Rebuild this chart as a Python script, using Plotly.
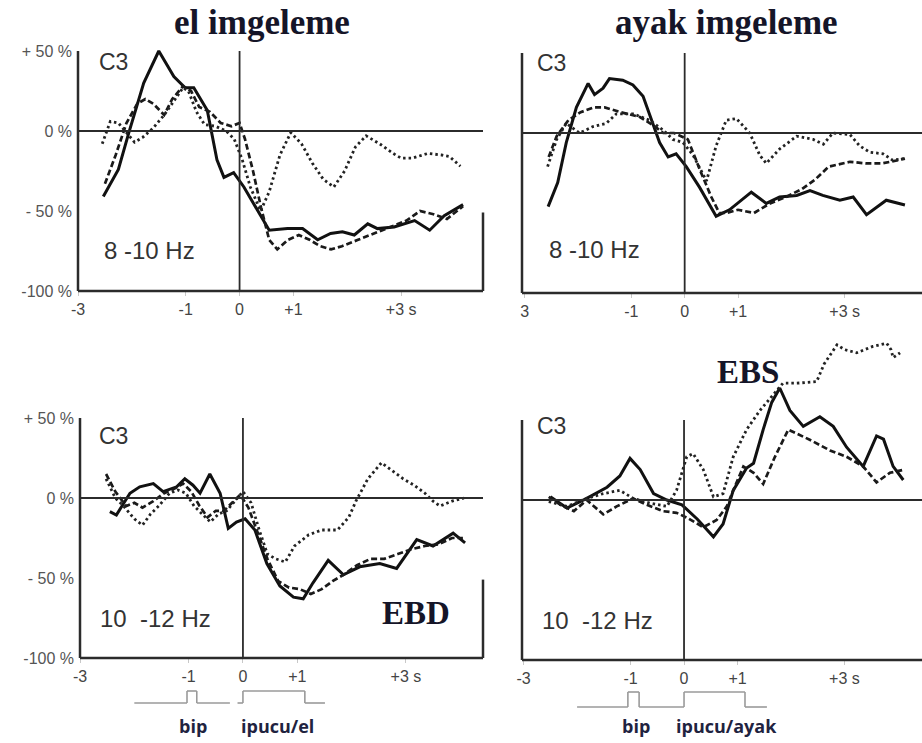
import plotly.graph_objects as go

# ---------------- data (time in s, ERD/ERS in %) ----------------
# el imgeleme, 8-10 Hz
el_a_solid_t = [-2.53, -2.25, -2.06, -1.78, -1.50, -1.22, -1.01, -0.85, -0.60, -0.42, -0.29, -0.11, 0.08, 0.33, 0.55, 0.89, 1.17, 1.45, 1.69, 1.91, 2.13, 2.38, 2.56, 2.87, 3.25, 3.53, 3.80, 4.15]
el_a_solid = [-41, -24, -1.5, 30, 50, 34, 27, 27, 13, -18, -29, -26, -35, -49, -62, -61, -61, -68, -64, -63, -65, -58, -61, -60, -56, -62, -53, -46]
el_a_dash_t = [-2.5, -2.3, -2.1, -1.9, -1.75, -1.6, -1.4, -1.25, -1.05, -0.9, -0.75, -0.55, -0.35, -0.15, 0.0, 0.1, 0.25, 0.4, 0.55, 0.7, 0.9, 1.1, 1.3, 1.5, 1.7, 1.9, 2.2, 2.5, 2.8, 3.1, 3.35, 3.6, 3.85, 4.15]
el_a_dash = [-33, -15, 5, 17, 20, 17, 10, 20, 28, 25, 15, 12, 5, 3, 5, -5, -25, -48, -68, -74, -68, -65, -68, -72, -74, -72, -68, -64, -60, -56, -50, -52, -55, -47]
el_a_dot_t = [-2.55, -2.4, -2.25, -2.1, -1.95, -1.8, -1.6, -1.4, -1.2, -1.05, -0.95, -0.8, -0.65, -0.45, -0.25, -0.1, 0.05, 0.2, 0.39, 0.55, 0.75, 0.95, 1.15, 1.35, 1.55, 1.75, 1.95, 2.15, 2.35, 2.6, 2.85, 3.0, 3.2, 3.5, 3.75, 3.9, 4.1]
el_a_dot = [-8, 6, 5, -1, -7, -4, 2, 10, 20, 27, 25, 12, 4, 3, 0, -5, -18, -35, -50, -38, -15, -1, -8, -20, -30, -35, -25, -10, -3, -8, -14, -17, -17, -14, -15, -16, -22]

# ayak imgeleme, 8-10 Hz
ayak_a_solid_t = [-2.56, -2.38, -2.22, -2.03, -1.81, -1.69, -1.53, -1.41, -1.16, -0.97, -0.78, -0.66, -0.47, -0.31, -0.16, 0.03, 0.28, 0.59, 0.84, 1.25, 1.53, 1.78, 2.10, 2.35, 2.59, 2.91, 3.16, 3.41, 3.78, 4.13]
ayak_a_solid = [-46, -31, -6, 16, 31, 24, 28, 34, 33, 30, 23, 12, -6, -15, -13, -21, -34, -52, -48, -37, -44, -40, -39, -36, -39, -42, -40, -51, -42, -45]
ayak_a_dash_t = [-2.55, -2.4, -2.18, -1.95, -1.7, -1.5, -1.2, -0.84, -0.6, -0.4, -0.2, 0.06, 0.31, 0.5, 0.65, 0.78, 1.0, 1.3, 1.6, 1.9, 2.2, 2.45, 2.7, 3.1, 3.4, 3.7, 4.0, 4.13]
ayak_a_dash = [-15, -2, 8, 13, 16, 16, 13, 10, 5, 0, 0, -4, -25, -40, -50, -50, -48, -50, -44, -40, -35, -29, -21, -18, -19, -19, -17, -16]
ayak_a_dot_t = [-2.57, -2.4, -2.22, -1.97, -1.72, -1.47, -1.28, -0.97, -0.66, -0.41, -0.22, -0.03, 0.16, 0.41, 0.59, 0.78, 0.97, 1.22, 1.41, 1.53, 1.78, 2.1, 2.41, 2.6, 2.78, 3.1, 3.28, 3.47, 3.72, 3.9, 4.12]
ayak_a_dot = [-21, -4, 6, 0, 4, 6, 12, 12, 8, 2, -4, -6, -14, -30, -8, 8, 9, 0, -14, -19, -10, -2, -4, -7, 0, -1, -8, -12, -13, -17, -16]

# el imgeleme, 10-12 Hz
el_b_solid_t = [-2.45, -2.33, -2.08, -1.90, -1.65, -1.47, -1.22, -1.07, -0.92, -0.79, -0.61, -0.42, -0.27, -0.12, 0.04, 0.22, 0.44, 0.68, 0.93, 1.11, 1.29, 1.57, 1.85, 2.15, 2.52, 2.83, 3.20, 3.50, 3.87, 4.09]
el_b_solid = [-8.5, -10.6, 3, 7, 9, 4, 7, 12, 8, 3, 15, 3, -19, -15, -13, -20, -41, -55, -62, -63, -53, -39, -48, -43, -41, -44, -26, -30, -22, -28]
el_b_dash_t = [-2.52, -2.35, -2.15, -2.0, -1.85, -1.65, -1.45, -1.25, -1.1, -0.95, -0.8, -0.65, -0.5, -0.35, -0.2, -0.05, 0.1, 0.25, 0.45, 0.65, 0.85, 1.05, 1.25, 1.45, 1.65, 1.85, 2.1, 2.35, 2.6, 2.85, 3.1, 3.35, 3.6, 3.85, 4.05]
el_b_dash = [15, 4, -5, -3, -6, -2, 3, 6, 9, 4, -5, -12, -8, -8, -3, 2, -6, -20, -38, -52, -56, -57, -60, -57, -52, -48, -42, -38, -38, -35, -32, -30, -29, -25, -25]
el_b_dot_t = [-2.52, -2.35, -2.2, -2.0, -1.85, -1.7, -1.55, -1.35, -1.2, -1.05, -0.9, -0.75, -0.6, -0.45, -0.3, -0.15, 0.0, 0.15, 0.3, 0.45, 0.6, 0.78, 0.95, 1.21, 1.45, 1.74, 1.95, 2.08, 2.3, 2.55, 2.75, 2.95, 3.15, 3.35, 3.5, 3.63, 3.85, 4.07]
el_b_dot = [12, 0, -5, -13, -17, -10, -5, 3, 5, 3, -5, -10, -15, -10, -8, -2, 4, -3, -20, -35, -38, -40, -30, -23, -20, -20, -12, -2, 12, 22, 17, 12, 8, 3, -2, -5, -2, 0]

# ayak imgeleme, 10-12 Hz
ayak_b_solid_t = [-2.50, -2.19, -1.82, -1.44, -1.20, -1.01, -0.82, -0.57, -0.32, -0.04, 0.25, 0.55, 0.73, 0.92, 1.17, 1.30, 1.48, 1.64, 1.79, 1.98, 2.23, 2.54, 2.79, 3.04, 3.35, 3.60, 3.73, 3.91, 4.10]
ayak_b_solid = [2, -5, 1, 8, 15, 26, 19, 4, 0, -3, -12, -23, -15, 6, 20, 23, 44, 61, 70, 56, 46, 52, 46, 33, 21, 40, 38, 21, 12.5]
ayak_b_dash_t = [-2.53, -2.31, -2.06, -1.82, -1.51, -1.26, -0.95, -0.70, -0.39, -0.14, 0.05, 0.36, 0.61, 0.80, 0.92, 1.11, 1.30, 1.48, 1.70, 1.95, 2.36, 2.73, 3.04, 3.35, 3.60, 3.85, 4.13]
ayak_b_dash = [2, -3, -7, 0, -9, -4, 1, -3, -7, -8, -11, -17, -12.5, -4, 6, 21, 17, 10, 27, 44, 37.5, 31, 27, 21, 11, 17, 19]
ayak_b_dot_t = [-2.53, -2.19, -1.82, -1.51, -1.20, -0.95, -0.64, -0.32, -0.14, 0.05, 0.17, 0.36, 0.55, 0.73, 0.92, 1.17, 1.42, 1.64, 1.85, 2.11, 2.48, 2.62, 2.86, 3.0, 3.23, 3.53, 3.79, 3.87, 3.91, 4.04]
ayak_b_dot = [-1, -4, 1, 4, 6, 1, -2, -4, 6, 27, 29, 19, 2, 4, 27, 44, 56, 65, 73, 73, 74, 85, 97, 94, 92, 96, 98, 94, 89, 92]

# tick labels and texts
y_tickvals = [50, 0, -50, -100]
y_ticktext = ["+ 50 %", "0 %", "- 50 %", "-100 %"]
x_tickvals = [-3, -1, 0, 1, 3]
x_ticktext_a = ["-3", "-1", "0", "+1", "+3 s"]
x_ticktext_b = ["3", "-1", "0", "+1", "+3 s"]
titles = ["el imgeleme", "ayak imgeleme"]
bands = ["8 -10 Hz", "10\u00a0 -12 Hz"]
cue_labels = ["ipucu/el", "ipucu/ayak"]

# ---------------- layout helpers ----------------
W, H = 922, 743
# panel geometry in pixels: (left px, right px, x range, zero px, -100 px, y top value)
panels = {
    1: dict(l=78, r=483, xr=[-3.0, 4.52], z=131, b=291, ytop=62),
    2: dict(l=522, r=922, xr=[-3.05, 4.45], z=133, b=293, ytop=62),
    3: dict(l=80, r=483, xr=[-3.0, 4.42], z=498, b=658, ytop=62),
    4: dict(l=522, r=922, xr=[-3.03, 4.45], z=500, b=660, ytop=105),
}

fig = go.Figure()

styles = {
    "solid": dict(color="#111111", width=3, dash="solid"),
    "dash": dict(color="#1a1a1a", width=2.7, dash="6px,3px"),
    "dot": dict(color="#222222", width=2.8, dash="2.5px,3px"),
}

series = {
    1: [(el_a_solid_t, el_a_solid, "solid"), (el_a_dash_t, el_a_dash, "dash"), (el_a_dot_t, el_a_dot, "dot")],
    2: [(ayak_a_solid_t, ayak_a_solid, "solid"), (ayak_a_dash_t, ayak_a_dash, "dash"), (ayak_a_dot_t, ayak_a_dot, "dot")],
    3: [(el_b_solid_t, el_b_solid, "solid"), (el_b_dash_t, el_b_dash, "dash"), (el_b_dot_t, el_b_dot, "dot")],
    4: [(ayak_b_solid_t, ayak_b_solid, "solid"), (ayak_b_dash_t, ayak_b_dash, "dash"), (ayak_b_dot_t, ayak_b_dot, "dot")],
}

shapes = []
annotations = []
axis_col = "#2b2b2b"
tick_font = dict(family="Liberation Sans, Arial, sans-serif", size=16, color="#555555")

for k, p in panels.items():
    sfx = "" if k == 1 else str(k)
    xa, ya = "x" + sfx, "y" + sfx
    pxper = (p["b"] - p["z"]) / 100.0
    top_px = p["z"] - p["ytop"] * pxper
    fig.update_layout(**{
        "xaxis" + sfx: dict(
            domain=[p["l"] / W, p["r"] / W], range=p["xr"], anchor=ya,
            showgrid=False, zeroline=False, showline=False, automargin=False,
            tickvals=x_tickvals,
            ticktext=x_ticktext_b if k == 2 else x_ticktext_a,
            ticks="outside", ticklen=4, tickcolor="#c8c8c8", tickwidth=1,
            tickfont=dict(family="Liberation Sans, Arial, sans-serif", size=16, color="#444444"),
            fixedrange=True,
        ),
        "yaxis" + sfx: dict(
            domain=[1 - p["b"] / H, 1 - top_px / H], range=[-100, p["ytop"]], anchor=xa,
            showgrid=False, zeroline=False, showline=False, automargin=False,
            tickvals=y_tickvals, ticktext=y_ticktext,
            showticklabels=(k in (1, 3)), ticks="", ticklabelstandoff=5,
            tickfont=tick_font, fixedrange=True,
        ),
    })
    for t, v, st in series[k]:
        fig.add_trace(go.Scatter(x=t, y=v, mode="lines", line=styles[st],
                                 xaxis=xa, yaxis=ya, showlegend=False, hoverinfo="skip"))
    xd, yd = xa + " domain", ya + " domain"
    shapes += [
        dict(type="line", xref=xd, yref=ya, x0=0, x1=0, y0=-100, y1=50, line=dict(color=axis_col, width=2.5)),
        dict(type="line", xref=xd, yref=yd, x0=0, x1=1, y0=0, y1=0, line=dict(color=axis_col, width=2.5)),
        dict(type="line", xref=xd, yref=ya, x0=0, x1=1, y0=0, y1=0, line=dict(color=axis_col, width=2)),
        dict(type="line", xref=xa, yref=ya, x0=0, x1=0, y0=-100, y1=50, line=dict(color=axis_col, width=1.8)),
    ]
    if k in (1, 3):
        shapes.append(dict(type="line", xref=xd, yref=ya, x0=1, x1=1, y0=-100, y1=-51,
                           line=dict(color=axis_col, width=2.5)))

# in-panel labels
text_font = dict(family="Liberation Sans, Arial, sans-serif", color="#333333")
c3_pos = {1: (-2.65, 43), 2: (-2.81, 44), 3: (-2.69, 39), 4: (-2.79, 46)}
band_pos = {1: (-2.55, -75), 2: (-2.59, -73), 3: (-2.67, -75), 4: (-2.69, -75)}
for k in panels:
    sfx = "" if k == 1 else str(k)
    annotations.append(dict(text="C3", x=c3_pos[k][0], y=c3_pos[k][1], xref="x" + sfx, yref="y" + sfx,
                            xanchor="left", yanchor="middle", showarrow=False,
                            font=dict(size=23, **text_font)))
    annotations.append(dict(text=bands[0] if k <= 2 else bands[1], x=band_pos[k][0], y=band_pos[k][1],
                            xref="x" + sfx, yref="y" + sfx, xanchor="left", yanchor="middle",
                            showarrow=False, font=dict(size=24, **text_font)))

serif = dict(family="Liberation Serif, Times New Roman, serif", color="#151528", weight="bold")
annotations += [
    dict(text="<b>" + titles[0] + "</b>", x=262 / W, y=1 - 22 / H, xref="paper", yref="paper",
         xanchor="center", yanchor="middle", showarrow=False, font=dict(size=35, **serif)),
    dict(text="<b>" + titles[1] + "</b>", x=726 / W, y=1 - 22 / H, xref="paper", yref="paper",
         xanchor="center", yanchor="middle", showarrow=False, font=dict(size=35, **serif)),
    dict(text="<b>EBD</b>", x=3.19, y=-72, xref="x3", yref="y3", xanchor="center", yanchor="middle",
         showarrow=False, font=dict(size=33, **serif)),
    dict(text="<b>EBS</b>", x=1.19, y=80, xref="x4", yref="y4", xanchor="center", yanchor="middle",
         showarrow=False, font=dict(size=33, **serif)),
]

# stimulus timing traces under the bottom panels
sans_b = dict(family="Open Sans, Liberation Sans, sans-serif", size=18, color="#1f2340", weight="bold")
stim = {
    3: dict(base=703, top=691, segs=[(-2.0, -1.03), (-0.85, -0.24)], gap_start=-0.1, cue_end=1.14, end=1.51),
    4: dict(base=707, top=692, segs=[(-2.0, -1.05), (-0.84, 0.0)], gap_start=0.0, cue_end=1.14, end=1.55),
}
for k, s in stim.items():
    xa = "x" + str(k)
    yb, yt = 1 - s["base"] / H, 1 - s["top"] / H
    gl = dict(color="#9a9a9a", width=1.6)
    (a0, a1), (b0, b1) = s["segs"]
    pts = [
        [(a0, yb), (a1, yb), (a1, yt), (b0, yt), (b0, yb), (b1, yb)],
        [(s["gap_start"], yb), (0.0, yb), (0.0, yt), (s["cue_end"], yt), (s["cue_end"], yb), (s["end"], yb)],
    ]
    for poly in pts:
        for (x0, y0), (x1, y1) in zip(poly[:-1], poly[1:]):
            shapes.append(dict(type="line", xref=xa, yref="paper", x0=x0, x1=x1, y0=y0, y1=y1, line=gl))
    annotations.append(dict(text="<b>bip</b>", x=-0.92 if k == 3 else -0.90, y=1 - 726 / H, xref=xa,
                            yref="paper", xanchor="center", yanchor="middle", showarrow=False, font=sans_b))
    annotations.append(dict(text="<b>" + cue_labels[k - 3] + "</b>", x=0.63 if k == 3 else 0.79,
                            y=1 - 726 / H, xref=xa, yref="paper", xanchor="center", yanchor="middle",
                            showarrow=False, font=sans_b))

fig.update_layout(
    width=W, height=H, margin=dict(l=0, r=0, t=0, b=0, autoexpand=False),
    paper_bgcolor="white", plot_bgcolor="white",
    shapes=shapes, annotations=annotations, showlegend=False,
)

fig.write_html(
    "out.html",
    config={"displayModeBar": False, "staticPlot": True},
    post_script="document.body.style.margin='0';document.body.style.overflow='hidden';",
)
